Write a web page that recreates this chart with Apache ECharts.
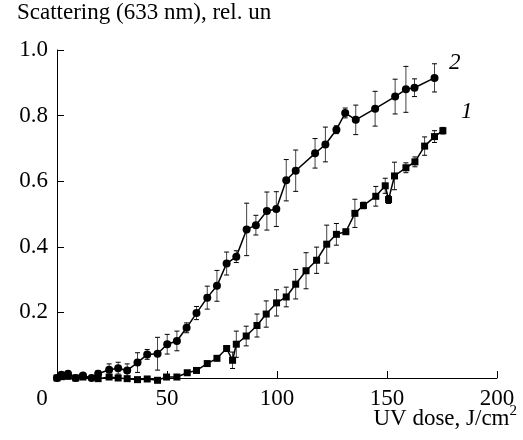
<!DOCTYPE html>
<html><head><meta charset="utf-8">
<script src="https://cdn.jsdelivr.net/npm/echarts/dist/echarts.min.js"></script>
<style>html,body{margin:0;padding:0;background:#fff}#c{width:523px;height:440px}</style>
</head><body><div id="c"></div>
<script>
// Curve 1 (squares)
const dose1 = [0, 2, 5, 8.5, 11.8, 18.7, 23.7, 27.8, 31.9, 36.6, 41, 45.7, 49.8, 54.5, 59.2, 63.4, 68.3, 72.7, 77.1, 79.8, 81.5, 86, 90.9, 95.1, 99.8, 104.2, 108.5, 113.2, 118, 122.6, 127, 131.3, 135.4, 139.3, 144.9, 149.2, 150.7, 153.4, 158.6, 162.7, 167.1, 171.6, 175.4];
const val1  = [0, 0.004, 0.005, 0, 0.003, -0.002, 0.003, 0, -0.002, -0.005, -0.003, -0.007, 0.003, 0.003, 0.016, 0.023, 0.044, 0.06, 0.09, 0.054, 0.103, 0.128, 0.16, 0.195, 0.229, 0.247, 0.286, 0.327, 0.359, 0.408, 0.438, 0.446, 0.502, 0.526, 0.554, 0.586, 0.544, 0.616, 0.641, 0.659, 0.707, 0.736, 0.754];
const err1  = [0, 0, 0, 0, 0, 0, 0, 0, 0, 0, 0, 0, 0.005, 0, 0, 0, 0, 0, 0, 0.025, 0.04, 0.03, 0.035, 0.04, 0.04, 0.03, 0.045, 0.055, 0.04, 0.058, 0.033, 0.005, 0.043, 0.01, 0.03, 0.023, 0.012, 0.042, 0.015, 0.015, 0.028, 0.018, 0.01];
// Curve 2 (circles)
const dose2 = [0, 2, 5, 8.5, 11.8, 15.7, 18.7, 23.7, 27.8, 31.9, 36.6, 41, 45.7, 50.1, 54.5, 58.9, 63.4, 68.3, 72.7, 77.1, 81.5, 86.2, 90.4, 95.4, 99.7, 104.2, 108.5, 117.3, 122, 127, 131, 135.8, 144.6, 153.7, 158.6, 162.5, 171.6];
const val2  = [0, 0.01, 0.013, 0, 0.008, 0, 0.013, 0.025, 0.03, 0.023, 0.047, 0.072, 0.074, 0.103, 0.113, 0.153, 0.198, 0.245, 0.281, 0.349, 0.37, 0.453, 0.466, 0.509, 0.515, 0.603, 0.632, 0.685, 0.712, 0.757, 0.808, 0.787, 0.821, 0.858, 0.88, 0.885, 0.915];
const err2  = [0, 0, 0, 0, 0, 0, 0.01, 0.018, 0.018, 0.02, 0.03, 0.015, 0.05, 0.03, 0.03, 0.015, 0.02, 0.035, 0.047, 0.035, 0.018, 0.08, 0.03, 0.058, 0.053, 0.063, 0.063, 0.045, 0.053, 0.012, 0.015, 0.045, 0.053, 0.053, 0.07, 0.027, 0.043];
const xTicks = [0, 50, 100, 150, 200];
const yTicks = [0, 0.2, 0.4, 0.6, 0.8, 1.0];
const yTitle = 'Scattering (633 nm), rel. un';
const xTitle = 'UV dose, J/cm';
const curveNames = ['1', '2'];

const FONT = '"Liberation Serif", "Times New Roman", serif';
const FS = 23;

function pts(d, v) { return d.map((x, i) => [x, v[i]]); }
function errs(d, v, e) { return d.map((x, i) => [x, v[i], e[i]]).filter(p => p[2] > 0); }

function errRender(params, api) {
  const x = api.value(0), y = api.value(1), e = api.value(2);
  const t = api.coord([x, y + e]), b = api.coord([x, y - e]);
  const w = 2.5;
  return { type: 'group', children: [
    { type: 'line', shape: { x1: t[0], y1: t[1], x2: b[0], y2: b[1] }, style: { stroke: '#444', lineWidth: 1 } },
    { type: 'line', shape: { x1: t[0] - w, y1: t[1], x2: t[0] + w, y2: t[1] }, style: { stroke: '#000', lineWidth: 1 } },
    { type: 'line', shape: { x1: b[0] - w, y1: b[1], x2: b[0] + w, y2: b[1] }, style: { stroke: '#000', lineWidth: 1 } }
  ]};
}

const chart = echarts.init(document.getElementById('c'), null, { renderer: 'canvas' });
chart.setOption({
  animation: false,
  backgroundColor: '#fff',
  grid: { left: 57, right: 26, top: 50, bottom: 62, containLabel: false },
  xAxis: {
    type: 'value', min: xTicks[0], max: xTicks[xTicks.length - 1], interval: 50,
    axisLine: { lineStyle: { color: '#000', width: 1 } },
    axisTick: { inside: true, length: 7, lineStyle: { color: '#000' } },
    splitLine: { show: false },
    axisLabel: {
      margin: 9, color: '#000', fontFamily: FONT, fontSize: FS,
      formatter: v => v === 0 ? '{z|0}' : String(v),
      rich: { z: { fontFamily: FONT, fontSize: FS, color: '#000', padding: [0, 30, 0, 0] } }
    }
  },
  yAxis: {
    type: 'value', min: yTicks[0], max: yTicks[yTicks.length - 1], interval: 0.2,
    axisLine: { lineStyle: { color: '#000', width: 1 } },
    axisTick: { inside: true, length: 7, lineStyle: { color: '#000' } },
    splitLine: { show: false },
    axisLabel: {
      margin: 9, color: '#000', fontFamily: FONT, fontSize: FS,
      formatter: v => v === 0 ? '' : v.toFixed(1)
    }
  },
  series: [
    { type: 'custom', renderItem: errRender, data: errs(dose1, val1, err1), encode: { x: 0, y: 1 }, z: 1, clip: false },
    { type: 'custom', renderItem: errRender, data: errs(dose2, val2, err2), encode: { x: 0, y: 1 }, z: 1, clip: false },
    { name: curveNames[0], type: 'line', data: pts(dose1, val1), symbol: 'rect', symbolSize: 7,
      itemStyle: { color: '#000' }, lineStyle: { color: '#000', width: 1.5 }, z: 3, clip: false },
    { name: curveNames[1], type: 'line', data: pts(dose2, val2), symbol: 'circle', symbolSize: 8,
      itemStyle: { color: '#000' }, lineStyle: { color: '#000', width: 1.5 }, z: 3, clip: false }
  ],
  graphic: [
    { type: 'text', left: 17, top: 1, style: { text: yTitle, font: FS + 'px ' + FONT, fill: '#000' } },
    { type: 'text', right: 6, top: 404, style: { text: xTitle + '{s|2}', font: FS + 'px ' + FONT, fill: '#000',
        rich: { s: { fontSize: 15, fontFamily: FONT, verticalAlign: 'top', padding: [0, 0, 14, 0] } } } },
    { type: 'text', x: 449, y: 51, style: { text: curveNames[1], font: 'italic ' + FS + 'px ' + FONT, fill: '#000' } },
    { type: 'text', x: 461, y: 100, style: { text: curveNames[0], font: 'italic ' + FS + 'px ' + FONT, fill: '#000' } }
  ]
});
</script>
</body></html>
